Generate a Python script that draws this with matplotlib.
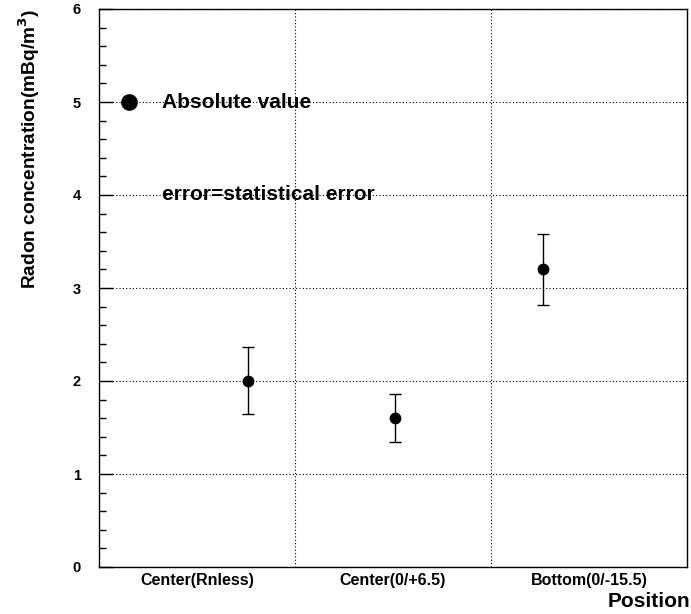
import matplotlib
matplotlib.use("Agg")
import matplotlib.pyplot as plt
from matplotlib.ticker import MultipleLocator, FixedLocator

categories = ["Center(Rnless)", "Center(0/+6.5)", "Bottom(0/-15.5)"]
x_pos = [0.76, 1.51, 2.265]
values = [2.0, 1.6, 3.2]
err_up = [0.37, 0.26, 0.38]
err_down = [0.36, 0.26, 0.38]
legend_pos = (0.153, 5.0)

plt.rcParams['font.family'] = ['Liberation Sans', 'DejaVu Sans']
plt.rcParams['font.weight'] = 'bold'

fig = plt.figure(figsize=(6.91, 6.14), dpi=100)
ax = fig.add_axes([99 / 691, 47 / 614, 588 / 691, 558 / 614])

ax.set_xlim(0, 3)
ax.set_ylim(0, 6)

ax.errorbar(x_pos, values, yerr=[err_down, err_up], fmt='o', color='black',
            markersize=7.5, capsize=4.5, elinewidth=1.0, capthick=1.0, zorder=3)

ax.plot([legend_pos[0]], [legend_pos[1]], 'o', color='black', markersize=11, zorder=3)
ax.text(0.32, 5.0, "Absolute value", fontsize=15, fontweight='bold', va='center', ha='left')
ax.text(0.32, 4.0, "error=statistical error", fontsize=15, fontweight='bold', va='center', ha='left')

ax.yaxis.set_major_locator(MultipleLocator(1))
ax.yaxis.set_minor_locator(MultipleLocator(0.2))
ax.xaxis.set_major_locator(FixedLocator([1, 2]))
ax.xaxis.set_minor_locator(FixedLocator([0.5, 1.5, 2.5]))
ax.set_xticklabels([])
ax.set_xticklabels(categories, minor=True, fontsize=11.5, fontweight='bold')
ax.tick_params(axis='x', which='both', length=0, pad=4)
ax.tick_params(axis='y', which='major', direction='in', length=10, width=1, labelsize=10.5, pad=13)
ax.tick_params(axis='y', which='minor', direction='in', length=5, width=1)
ax.tick_params(axis='y', which='both', right=False)
for lbl in ax.get_yticklabels():
    lbl.set_fontweight('bold')

ax.grid(True, which='major', axis='both', linestyle=(0, (1, 2)), color='black', linewidth=0.8)

for s in ax.spines.values():
    s.set_linewidth(1.0)

fig.text(0.043, 0.985, "Radon concentration(mBq/m$^{3}$)", fontsize=13.8, fontweight='bold',
         rotation=90, ha='center', va='top')
fig.text(0.9985, 0.011, "Position", fontsize=15, fontweight='bold', ha='right', va='baseline')

fig.savefig("out.png", dpi=100)
